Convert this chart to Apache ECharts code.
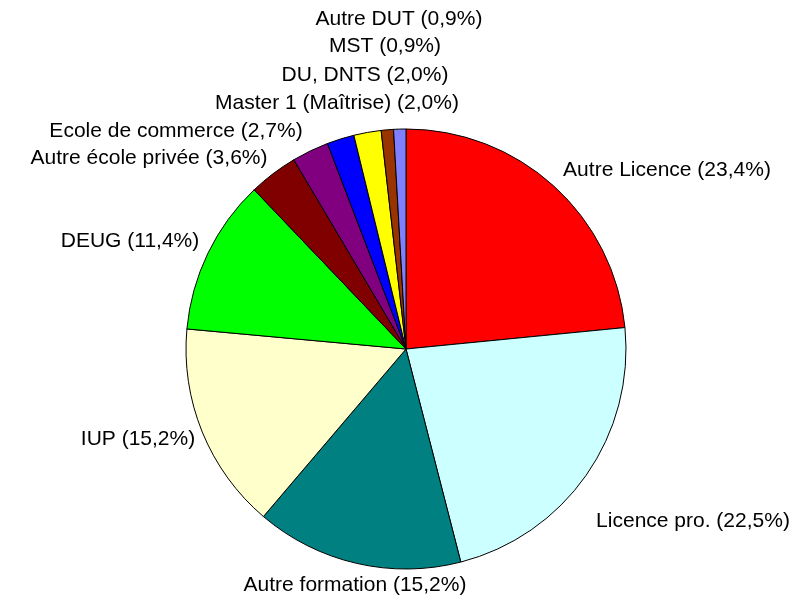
<!DOCTYPE html>
<html>
<head>
<meta charset="utf-8">
<script src="https://cdn.jsdelivr.net/npm/echarts@6/dist/echarts.min.js"></script>
<style>html,body{margin:0;padding:0;background:#fff;}#main{width:797px;height:600px;}</style>
</head>
<body>
<div id="main"></div>
<script>
const categories = ['Autre Licence', 'Licence pro.', 'Autre formation', 'IUP', 'DEUG', 'Autre école privée', 'Ecole de commerce', 'Master 1 (Maîtrise)', 'DU, DNTS', 'MST', 'Autre DUT'];
const values = [23.4, 22.5, 15.2, 15.2, 11.4, 3.6, 2.7, 2.0, 2.0, 0.9, 0.9];
const colors = ['#FF0000', '#CCFFFF', '#008080', '#FFFFCC', '#00FF00', '#800000', '#800080', '#0000FF', '#FFFF00', '#993300', '#8080FF'];
// label anchor positions (pixel, centre of text)
const labelPos = [[667, 170], [693, 521], [355, 585], [138, 439], [130, 241], [149, 158], [176, 131], [337, 103], [365, 75], [385, 46], [399, 19]];

const chart = echarts.init(document.getElementById('main'), null, {renderer: 'canvas'});
chart.setOption({
  animation: false,
  backgroundColor: '#ffffff',
  series: [{
    type: 'pie',
    center: [406, 349],
    radius: 220,
    startAngle: 90,
    clockwise: true,
    avoidLabelOverlap: false,
    data: categories.map((c, i) => ({name: c, value: values[i], itemStyle: {color: colors[i]}})),
    itemStyle: {borderColor: '#000', borderWidth: 1},
    label: {
      show: true,
      position: 'outside',
      fontFamily: 'Liberation Sans, Arial, sans-serif',
      fontSize: 21,
      color: '#000',
      formatter: p => p.name + ' (' + p.value.toFixed(1).replace('.', ',') + '%)'
    },
    labelLine: {show: false},
    labelLayout: function (params) {
      const pos = labelPos[params.dataIndex];
      return {x: pos[0], y: pos[1], align: 'center', verticalAlign: 'middle', hideOverlap: false};
    },
    emphasis: {disabled: true}
  }]
});
</script>
</body>
</html>
